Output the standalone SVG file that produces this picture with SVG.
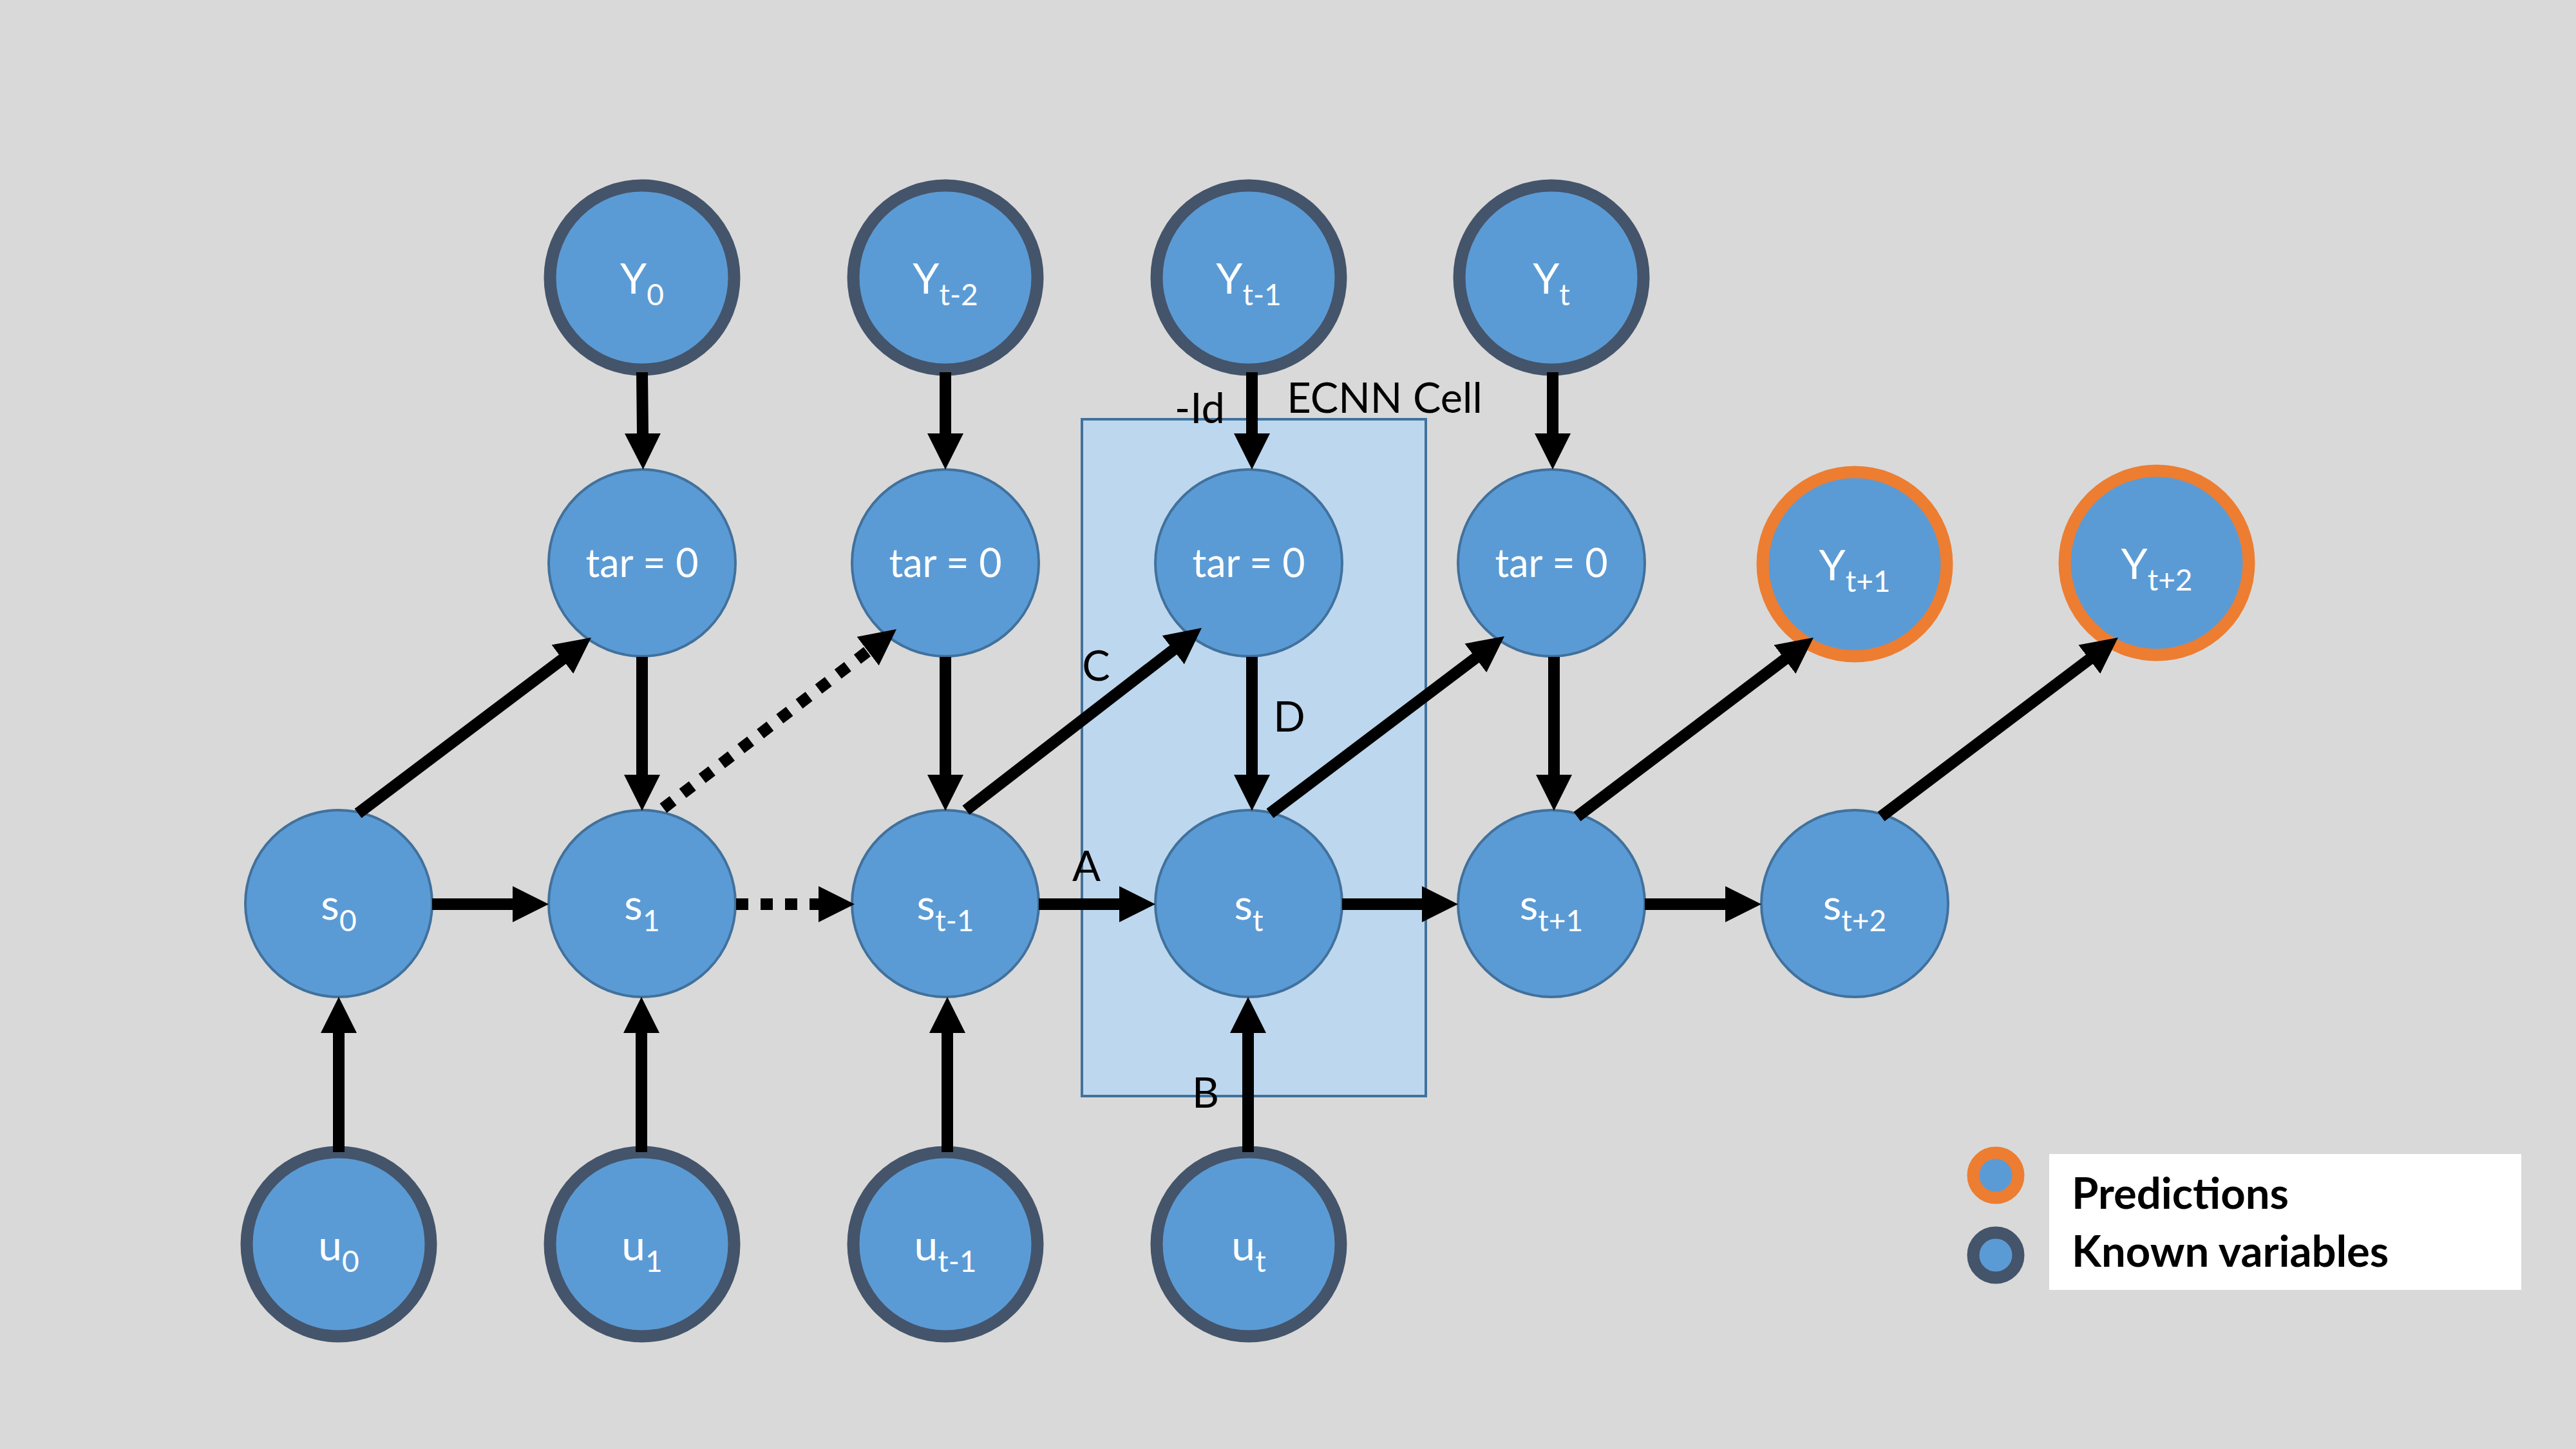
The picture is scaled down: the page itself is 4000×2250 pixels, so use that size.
<svg xmlns="http://www.w3.org/2000/svg" width="4000" height="2250" viewBox="0 0 4000 2250">
<style>
.known{fill:#5B9BD5;stroke:#44546A;stroke-width:19}
.pred{fill:#5B9BD5;stroke:#ED7D31;stroke-width:19}
.plain{fill:#5B9BD5;stroke:#41719C;stroke-width:4}
.lbl{font-family:Lato,'Open Sans',sans-serif;fill:#FFFFFF;font-size:66px;text-anchor:middle}
.sub{font-size:46px}
.tar{font-size:61px}
.note{font-family:Lato,'Open Sans',sans-serif;fill:#000000;font-size:65px;text-anchor:middle}
.leg{font-family:Lato,'Open Sans',sans-serif;fill:#000000;font-size:67px;font-weight:bold}
.arr{stroke:#000000;stroke-width:18;fill:none;marker-end:url(#ah)}
.dot{stroke-dasharray:19 19}
</style>
<defs>
<marker id="ah" markerUnits="userSpaceOnUse" markerWidth="56" markerHeight="56" viewBox="0 0 56 56" refX="2" refY="28" orient="auto">
<path d="M0,0 L56,28 L0,56 z" fill="#000000"/>
</marker>
</defs>
<rect x="0" y="0" width="4000" height="2250" fill="#D9D9D9"/>
<rect id="ecnn-cell" x="1680" y="651" width="534" height="1051" fill="#BDD7EE" stroke="#41719C" stroke-width="4"/>

<g id="Y0"><circle class="known" cx="997" cy="431" r="143"/><text class="lbl" x="997" y="456">Y<tspan class="sub" dy="18">0</tspan></text></g>
<g id="Yt-2"><circle class="known" cx="1468" cy="431" r="143"/><text class="lbl" x="1468" y="456">Y<tspan class="sub" dy="18">t-2</tspan></text></g>
<g id="Yt-1"><circle class="known" cx="1939" cy="431" r="143"/><text class="lbl" x="1939" y="456">Y<tspan class="sub" dy="18">t-1</tspan></text></g>
<g id="Yt"><circle class="known" cx="2409" cy="431" r="143"/><text class="lbl" x="2409" y="456">Y<tspan class="sub" dy="18">t</tspan></text></g>

<g id="tar1"><circle class="plain" cx="997" cy="874" r="145"/><text class="lbl tar" x="997" y="896">tar = 0</text></g>
<g id="tar2"><circle class="plain" cx="1468" cy="874" r="145"/><text class="lbl tar" x="1468" y="896">tar = 0</text></g>
<g id="tar3"><circle class="plain" cx="1939" cy="874" r="145"/><text class="lbl tar" x="1939" y="896">tar = 0</text></g>
<g id="tar4"><circle class="plain" cx="2409" cy="874" r="145"/><text class="lbl tar" x="2409" y="896">tar = 0</text></g>
<g id="Yt+1"><circle class="pred" cx="2880" cy="876" r="143"/><text class="lbl" x="2880" y="901">Y<tspan class="sub" dy="18">t+1</tspan></text></g>
<g id="Yt+2"><circle class="pred" cx="3349" cy="874" r="143"/><text class="lbl" x="3349" y="899">Y<tspan class="sub" dy="18">t+2</tspan></text></g>

<g id="s0"><circle class="plain" cx="526" cy="1403" r="145"/><text class="lbl" x="526" y="1428">s<tspan class="sub" dy="18">0</tspan></text></g>
<g id="s1"><circle class="plain" cx="997" cy="1403" r="145"/><text class="lbl" x="997" y="1428">s<tspan class="sub" dy="18">1</tspan></text></g>
<g id="st-1"><circle class="plain" cx="1468" cy="1403" r="145"/><text class="lbl" x="1468" y="1428">s<tspan class="sub" dy="18">t-1</tspan></text></g>
<g id="st"><circle class="plain" cx="1939" cy="1403" r="145"/><text class="lbl" x="1939" y="1428">s<tspan class="sub" dy="18">t</tspan></text></g>
<g id="st+1"><circle class="plain" cx="2409" cy="1403" r="145"/><text class="lbl" x="2409" y="1428">s<tspan class="sub" dy="18">t+1</tspan></text></g>
<g id="st+2"><circle class="plain" cx="2880" cy="1403" r="145"/><text class="lbl" x="2880" y="1428">s<tspan class="sub" dy="18">t+2</tspan></text></g>

<g id="u0"><circle class="known" cx="526" cy="1932" r="143"/><text class="lbl" x="526" y="1957">u<tspan class="sub" dy="18">0</tspan></text></g>
<g id="u1"><circle class="known" cx="997" cy="1932" r="143"/><text class="lbl" x="997" y="1957">u<tspan class="sub" dy="18">1</tspan></text></g>
<g id="ut-1"><circle class="known" cx="1468" cy="1932" r="143"/><text class="lbl" x="1468" y="1957">u<tspan class="sub" dy="18">t-1</tspan></text></g>
<g id="ut"><circle class="known" cx="1939" cy="1932" r="143"/><text class="lbl" x="1939" y="1957">u<tspan class="sub" dy="18">t</tspan></text></g>

<g id="connectors">
<line class="arr" x1="997" y1="578" x2="998" y2="675"/>
<line class="arr" x1="1468" y1="578" x2="1468" y2="675"/>
<line class="arr" x1="1944" y1="578" x2="1944" y2="675"/>
<line class="arr" x1="2411" y1="578" x2="2411" y2="675"/>
<line class="arr" x1="997" y1="1020" x2="997" y2="1205"/>
<line class="arr" x1="1468" y1="1020" x2="1468" y2="1205"/>
<line class="arr" x1="1944" y1="1020" x2="1944" y2="1205"/>
<line class="arr" x1="2413" y1="1020" x2="2413" y2="1205"/>
<line class="arr" x1="526" y1="1789" x2="526" y2="1602"/>
<line class="arr" x1="996" y1="1789" x2="996" y2="1602"/>
<line class="arr" x1="1471" y1="1789" x2="1471" y2="1602"/>
<line class="arr" x1="1938" y1="1789" x2="1938" y2="1602"/>
<line class="arr" x1="671" y1="1404" x2="798" y2="1404"/>
<line class="arr dot" x1="1143" y1="1404" x2="1273" y2="1404"/>
<line class="arr" x1="1613" y1="1404" x2="1740" y2="1404"/>
<line class="arr" x1="2084" y1="1404" x2="2210" y2="1404"/>
<line class="arr" x1="2554" y1="1404" x2="2681" y2="1404"/>
<line class="arr" x1="556" y1="1263" x2="874.9" y2="1022.5"/>
<line class="arr dot" x1="1030" y1="1255" x2="1349.2" y2="1009.9"/>
<line class="arr" x1="1500" y1="1258" x2="1823.3" y2="1008"/>
<line class="arr" x1="1972" y1="1263" x2="2292.9" y2="1020.6"/>
<line class="arr" x1="2449" y1="1268" x2="2773" y2="1022.6"/>
<line class="arr" x1="2921" y1="1268" x2="3245.9" y2="1022.6"/>
</g>

<g id="labels">
<text class="note" x="1863" y="657">-Id</text>
<text class="note" x="2150" y="641">ECNN Cell</text>
<text class="note" x="1687" y="1368">A</text>
<text class="note" x="1872" y="1720">B</text>
<text class="note" x="1702" y="1057">C</text>
<text class="note" x="2002" y="1136">D</text>
</g>

<g id="legend">
<rect x="3182" y="1792" width="733" height="211" fill="#FFFFFF"/>
<circle class="pred" cx="3099" cy="1825" r="35"/>
<circle class="known" cx="3099" cy="1949" r="35"/>
<text class="leg" x="3217" y="1877">Predictions</text>
<text class="leg" x="3217" y="1967">Known variables</text>
</g>
</svg>
